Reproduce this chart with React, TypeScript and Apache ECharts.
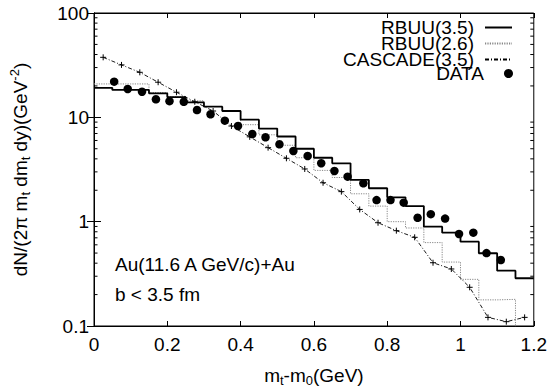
import React, { useEffect, useRef } from "react";
import * as echarts from "echarts";

// Histogram bin edges (GeV)
const binEdges = [
  0, 0.05, 0.1, 0.15, 0.2, 0.25, 0.3, 0.35, 0.4, 0.45, 0.5, 0.55, 0.6, 0.65,
  0.7, 0.75, 0.8, 0.85, 0.9, 0.95, 1.0, 1.05, 1.1, 1.15, 1.2,
];
// RBUU(3.5) histogram values, one per bin
const rbuu35 = [
  19.2, 18.3, 18.3, 17.0, 15.6, 13.9, 12.65, 11.5, 9.5, 7.8, 6.55, 5.0, 4.1,
  3.62, 2.51, 2.09, 1.71, 1.41, 0.895, 0.784, 0.643, 0.498, 0.339, 0.287,
];
// RBUU(2.6) histogram values, one per bin
const rbuu26 = [
  20.9, 20.9, 20.9, 17.3, 15.8, 14.4, 12.7, 11.4, 8.5, 6.8, 5.4, 4.1, 3.1,
  2.65, 1.85, 1.41, 1.0, 0.87, 0.63, 0.41, 0.28, 0.178, 0.18, 0.05,
];
// CASCADE(3.5) points
const cascadeX = [
  0.025, 0.075, 0.125, 0.175, 0.225, 0.275, 0.325, 0.375, 0.425, 0.475, 0.525,
  0.575, 0.625, 0.675, 0.725, 0.775, 0.825, 0.875, 0.925, 0.975, 1.025, 1.075,
  1.125, 1.175,
];
const cascadeY = [
  37.6, 31.8, 27.0, 21.7, 17.4, 14.1, 11.5, 8.26, 6.5, 5.12, 4.05, 3.2, 2.36,
  1.94, 1.31, 0.977, 0.82, 0.708, 0.404, 0.352, 0.235, 0.121, 0.11, 0.121,
];
// DATA points
const dataX = [
  0.055, 0.092, 0.131, 0.169, 0.206, 0.245, 0.281, 0.318, 0.357, 0.393, 0.432,
  0.468, 0.506, 0.544, 0.583, 0.62, 0.656, 0.692, 0.735, 0.771, 0.809, 0.845,
  0.883, 0.919, 0.958, 0.996, 1.035, 1.071, 1.11,
];
const dataY = [
  21.97, 18.7, 17.6, 14.9, 14.3, 14.1, 11.75, 10.7, 9.29, 8.26, 6.92, 6.44,
  5.52, 4.76, 4.26, 3.63, 3.06, 2.7, 2.33, 1.61, 1.61, 1.52, 1.09, 1.18, 1.07,
  0.762, 0.784, 0.5, 0.429,
];
// minor ticks of the log axis
const yMinorTicks = [
  0.2, 0.3, 0.4, 0.5, 0.6, 0.7, 0.8, 0.9, 2, 3, 4, 5, 6, 7, 8, 9, 20, 30, 40,
  50, 60, 70, 80, 90,
];
const seriesNames = ["RBUU(3.5)", "RBUU(2.6)", "CASCADE(3.5)", "DATA"];

const FONT = "'Liberation Sans', Arial, Helvetica, sans-serif";
const FS = 19;

function stepData(vals: number[]) {
  return binEdges.map((e, i) => [e, vals[Math.min(i, vals.length - 1)]]);
}

export default function App() {
  const ref = useRef<HTMLDivElement>(null);
  useEffect(() => {
    document.body.style.margin = "0";
    const chart = echarts.init(ref.current!, null, { renderer: "svg" });
    const legendTops = [18, 34, 50, 64];
    const option: any = {
      animation: false,
      backgroundColor: "#fff",
      textStyle: { fontFamily: FONT },
      grid: {
        left: 93,
        right: 11.5,
        top: 13,
        bottom: 66,
        show: true,
        borderColor: "#000",
        borderWidth: 1,
        backgroundColor: "transparent",
      },
      legend: seriesNames.map((n, i) => ({
        data: [n],
        right: 37,
        top: legendTops[i],
        orient: "vertical",
        align: "right",
        padding: 0,
        itemWidth: 27,
        itemHeight: i === 3 ? 9 : i === 2 ? 7 : 14,
        selectedMode: false,
        itemStyle: i <= 1 ? { opacity: 0 } : undefined,
        textStyle: {
          fontSize: FS,
          color: "#000",
          fontFamily: FONT,
          padding: [0, 6, 0, 0],
        },
      })),
      xAxis: [
        {
          type: "value",
          min: 0,
          max: 1.2,
          interval: 0.2,
          position: "bottom",
          axisLine: { lineStyle: { color: "#000", width: 1 } },
          axisTick: { inside: true, length: 5, lineStyle: { color: "#000" } },
          splitLine: { show: false },
          axisLabel: {
            color: "#000",
            fontSize: FS,
            fontFamily: FONT,
            margin: 9,
            formatter: (v: number) => String(Math.round(v * 10) / 10),
          },
          name: "{a|m}{s|t}{a|-m}{s|0}{a|(GeV)}",
          nameLocation: "middle",
          nameGap: 37,
          nameTextStyle: {
            rich: {
              a: { fontSize: FS, fontFamily: FONT, color: "#000", lineHeight: 24 },
              s: {
                fontSize: 13,
                fontFamily: FONT,
                color: "#000",
                lineHeight: 14,
                verticalAlign: "bottom",
              },
            },
          },
        },
        {
          type: "value",
          min: 0,
          max: 1.2,
          interval: 0.2,
          position: "top",
          axisLine: { lineStyle: { color: "#000", width: 1 } },
          axisTick: { inside: true, length: 5, lineStyle: { color: "#000" } },
          splitLine: { show: false },
          axisLabel: { show: false },
        },
      ],
      yAxis: [
        {
          type: "log",
          logBase: 10,
          min: 0.1,
          max: 100,
          position: "left",
          axisLine: { lineStyle: { color: "#000", width: 1 } },
          axisTick: { inside: true, length: 7, lineStyle: { color: "#000" } },
          splitLine: { show: false },
          axisLabel: {
            color: "#000",
            fontSize: FS,
            fontFamily: FONT,
            margin: 5,
            formatter: (v: number) => (v < 1 ? String(v) : String(Math.round(v))),
          },
          name: "{a|dN/(2π m}{s|t}{a| dm}{s|t}{a| dy)(GeV}{p|-2}{a|)}",
          nameLocation: "middle",
          nameRotate: 90,
          nameGap: 62,
          nameTextStyle: {
            rich: {
              a: { fontSize: FS, fontFamily: FONT, color: "#000", lineHeight: 24 },
              s: {
                fontSize: 13,
                fontFamily: FONT,
                color: "#000",
                lineHeight: 14,
                verticalAlign: "bottom",
              },
              p: {
                fontSize: 13,
                fontFamily: FONT,
                color: "#000",
                lineHeight: 14,
                verticalAlign: "top",
              },
            },
          },
        },
        {
          type: "log",
          logBase: 10,
          min: 0.1,
          max: 100,
          position: "right",
          axisLine: { lineStyle: { color: "#000", width: 1 } },
          axisTick: { inside: true, length: 7, lineStyle: { color: "#000" } },
          splitLine: { show: false },
          axisLabel: { show: false },
        },
      ],
      graphic: [
        {
          type: "text",
          style: {
            text: "Au(11.6 A GeV/c)+Au",
            x: 115,
            y: 264,
            fontSize: FS,
            fontFamily: FONT,
            fill: "#000",
            verticalAlign: "middle",
          },
        },
        {
          type: "text",
          style: {
            text: "b < 3.5 fm",
            x: 115,
            y: 294,
            fontSize: FS,
            fontFamily: FONT,
            fill: "#000",
            verticalAlign: "middle",
          },
        },
      ],
      series: [
        {
          type: "custom",
          name: "minorTicks",
          xAxisIndex: 0,
          yAxisIndex: 0,
          silent: true,
          clip: false,
          data: yMinorTicks.map((v) => [0, v]),
          renderItem: (params: any, api: any) => {
            const v = api.value(1);
            const p0 = api.coord([0, v]);
            const p1 = api.coord([1.2, v]);
            return {
              type: "group",
              children: [
                {
                  type: "line",
                  shape: { x1: p0[0], y1: p0[1], x2: p0[0] + 3.5, y2: p0[1] },
                  style: { stroke: "#000", lineWidth: 1 },
                },
                {
                  type: "line",
                  shape: { x1: p1[0] - 3.5, y1: p1[1], x2: p1[0], y2: p1[1] },
                  style: { stroke: "#000", lineWidth: 1 },
                },
              ],
            };
          },
        },
        {
          name: "RBUU(3.5)",
          type: "line",
          step: "end",
          data: stepData(rbuu35),
          symbol: "none",
          lineStyle: { color: "#000", width: 1.8, type: "solid" },
          itemStyle: { color: "#000" },
          z: 3,
        },
        {
          name: "RBUU(2.6)",
          type: "line",
          step: "end",
          data: stepData(rbuu26),
          symbol: "none",
          clip: true,
          lineStyle: { color: "#888", width: 1, type: [1.2, 1.2] },
          itemStyle: { color: "#888" },
          z: 2,
        },
        {
          name: "CASCADE(3.5)",
          type: "line",
          data: cascadeX.map((x, i) => [x, cascadeY[i]]),
          symbol: "path://M0,5L10,5M5,0L5,10",
          symbolSize: 6,
          showSymbol: true,
          clip: true,
          lineStyle: { color: "#000", width: 0.9, type: [4, 2, 1, 2] },
          itemStyle: { color: "#000", borderColor: "#000", borderWidth: 1 },
          z: 4,
        },
        {
          name: "DATA",
          type: "scatter",
          data: dataX.map((x, i) => [x, dataY[i]]),
          symbol: "circle",
          symbolSize: 8.5,
          itemStyle: { color: "#000", opacity: 1 },
          z: 5,
        },
      ],
    };
    chart.setOption(option);
    return () => chart.dispose();
  }, []);
  return <div ref={ref} style={{ width: 550, height: 392 }} />;
}
